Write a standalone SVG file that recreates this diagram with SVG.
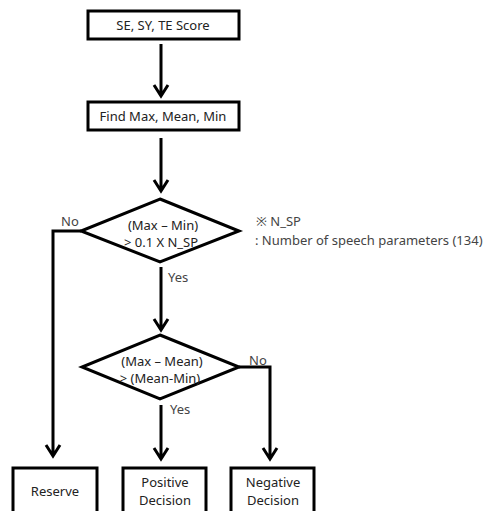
<svg xmlns="http://www.w3.org/2000/svg" width="488" height="511" viewBox="0 0 488 511">
<style>
.box{fill:#fff;stroke:#000;stroke-width:3}
.dia{fill:#fff;stroke:#000;stroke-width:3;stroke-linejoin:miter}
.ln{fill:none;stroke:#000;stroke-width:3}
.t{font-family:"Noto Sans","DejaVu Sans",sans-serif;font-size:13px;fill:#222;text-anchor:middle}
.l{font-family:"Noto Sans","DejaVu Sans",sans-serif;font-size:13px;fill:#444}
</style>
<rect width="488" height="511" fill="#fff"/>
<g id="connectors">
<path class="ln" d="M161,44 V96 M154,85 L161,96 L168,85"/>
<path class="ln" d="M161,138 V191 M154,180 L161,191 L168,180"/>
<path class="ln" d="M161,267 V330 M154,319 L161,330 L168,319"/>
<path class="ln" d="M81,231 H53 V456 M46,445 L53,456 L60,445"/>
<path class="ln" d="M161,405 V459 M154,448 L161,459 L168,448"/>
<path class="ln" d="M239,367 H270 V459 M263,448 L270,459 L277,448"/>
<text class="l" x="61" y="226">No</text>
<text class="l" x="168" y="282">Yes</text>
<text class="l" x="249" y="365">No</text>
<text class="l" x="170" y="414">Yes</text>
</g>
<g id="n1"><rect class="box" x="88" y="11" width="151" height="28"/><text class="t" x="163" y="30">SE, SY, TE Score</text></g>
<g id="n2"><rect class="box" x="88" y="102" width="151" height="28"/><text class="t" x="163" y="121">Find Max, Mean, Min</text></g>
<g id="d1"><polygon class="dia" points="160,199 239,231 160,262 81,231"/><text class="t" x="163" y="230">(Max – Min)</text><text class="t" x="161" y="247">&gt; 0.1 X N_SP</text></g>
<g id="note"><text class="l" x="256" y="226">※ N_SP</text><text class="l" x="255" y="245">: Number of speech parameters (134)</text></g>
<g id="d2"><polygon class="dia" points="160,335 239,367 160,399 82,367"/><text class="t" x="162" y="366">(Max – Mean)</text><text class="t" x="160" y="383">&gt; (Mean-Min)</text></g>
<g id="n3"><rect class="box" x="13" y="468" width="84" height="52"/><text class="t" x="55" y="496">Reserve</text></g>
<g id="n4"><rect class="box" x="123" y="468" width="83" height="52"/><text class="t" x="165" y="487">Positive</text><text class="t" x="165" y="505">Decision</text></g>
<g id="n5"><rect class="box" x="231" y="468" width="83" height="52"/><text class="t" x="273" y="487">Negative</text><text class="t" x="273" y="505">Decision</text></g>
</svg>
